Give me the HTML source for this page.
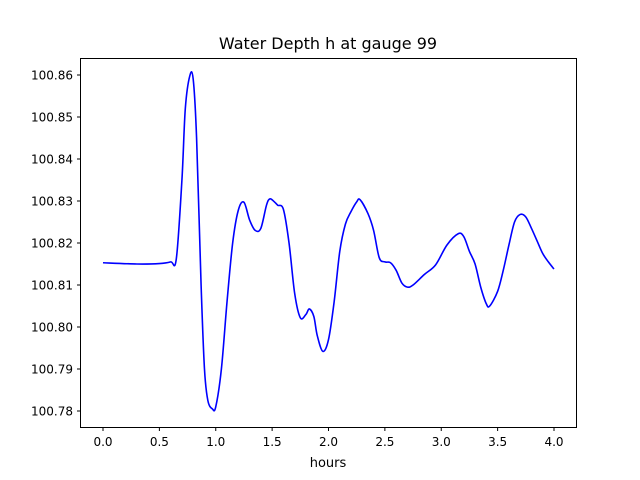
<!DOCTYPE html>
<html><head><meta charset="utf-8"><style>
html,body{margin:0;padding:0;background:#fff;}
svg{display:block;font-family:"DejaVu Sans","Liberation Sans",sans-serif;}
</style></head><body>
<svg id="chart" width="640" height="480" viewBox="0 0 640 480">
<rect x="0" y="0" width="640" height="480" fill="#fff"/>
<text x="328" y="49" font-size="16" text-anchor="middle">Water Depth h at gauge 99</text>
<g id="ticks"></g>
<path id="line" fill="none" stroke="#0000ff" stroke-width="1.6"/>
<rect x="80.5" y="58.5" width="496" height="369" fill="none" stroke="#000" stroke-width="1"/>
<text x="328" y="467" font-size="13" text-anchor="middle">hours</text>
</svg>
<script>
const hours = [0,0.3,0.5,0.6,0.65,0.7,0.73,0.77,0.8,0.83,0.87,0.9,0.93,0.97,1.0,1.05,1.1,1.15,1.2,1.25,1.3,1.35,1.4,1.45,1.48,1.52,1.55,1.6,1.65,1.7,1.75,1.8,1.83,1.87,1.9,1.95,2.0,2.05,2.1,2.15,2.2,2.25,2.28,2.35,2.4,2.45,2.5,2.55,2.6,2.65,2.7,2.75,2.85,2.95,3.05,3.15,3.2,3.25,3.3,3.35,3.4,3.43,3.5,3.55,3.6,3.65,3.7,3.75,3.8,3.85,3.9,3.95,4.0];
const depth = [100.8153,100.815,100.8151,100.8155,100.8162,100.835,100.852,100.8598,100.859,100.845,100.81,100.79,100.7825,100.7805,100.781,100.79,100.806,100.82,100.8278,100.8297,100.8255,100.823,100.8235,100.829,100.8305,100.8298,100.829,100.828,100.82,100.808,100.8022,100.803,100.8043,100.8025,100.798,100.7942,100.797,100.806,100.818,100.8245,100.8275,100.8298,100.8303,100.827,100.823,100.8165,100.8155,100.8153,100.8135,100.8105,100.8095,100.81,100.8125,100.8148,100.8195,100.8222,100.8215,100.818,100.815,100.8095,100.8055,100.805,100.8085,100.8135,100.8195,100.825,100.8268,100.8262,100.8235,100.8205,100.8175,100.8155,100.8138];
const xTickLabels = ["0.0","0.5","1.0","1.5","2.0","2.5","3.0","3.5","4.0"];
const yTickLabels = ["100.78","100.79","100.80","100.81","100.82","100.83","100.84","100.85","100.86"];

const xs = h => 103 + (h - 0) * (554 - 103) / 4;
const ys = v => 411 - (v - 100.78) * (411 - 75) / 0.08;
const NS = "http://www.w3.org/2000/svg";
const g = document.getElementById("ticks");

xTickLabels.forEach(t => {
  const x = xs(parseFloat(t));
  const l = document.createElementNS(NS, "line");
  l.setAttribute("x1", x); l.setAttribute("x2", x); l.setAttribute("y1", 427.5); l.setAttribute("y2", 431);
  l.setAttribute("stroke", "#000");
  
  
  g.appendChild(l);
  const tx = document.createElementNS(NS, "text");
  tx.setAttribute("x", x); tx.setAttribute("y", 446); tx.setAttribute("font-size", "12"); tx.setAttribute("text-anchor", "middle");
  tx.textContent = t;
  
  
  g.appendChild(tx);
});
yTickLabels.forEach(t => {
  const y = ys(parseFloat(t));
  const l = document.createElementNS(NS, "line");
  l.setAttribute("x1", 77); l.setAttribute("x2", 80.5); l.setAttribute("y1", y); l.setAttribute("y2", y);
  l.setAttribute("stroke", "#000");
  
  
  g.appendChild(l);
  const tx = document.createElementNS(NS, "text");
  tx.setAttribute("x", 73); tx.setAttribute("y", y + 4.5); tx.setAttribute("font-size", "12"); tx.setAttribute("text-anchor", "end");
  tx.textContent = t;
  
  
  g.appendChild(tx);
});

// Catmull-Rom smoothing through data points
const pts = hours.map((h, i) => [xs(h), ys(depth[i])]);
let d = "M" + pts[0][0] + "," + pts[0][1];
for (let i = 0; i < pts.length - 1; i++) {
  const p0 = pts[Math.max(0, i - 1)], p1 = pts[i], p2 = pts[i + 1], p3 = pts[Math.min(pts.length - 1, i + 2)];
  const c1 = [p1[0] + (p2[0] - p0[0]) / 6, p1[1] + (p2[1] - p0[1]) / 6];
  const c2 = [p2[0] - (p3[0] - p1[0]) / 6, p2[1] - (p3[1] - p1[1]) / 6];
  d += " C" + c1[0] + "," + c1[1] + " " + c2[0] + "," + c2[1] + " " + p2[0] + "," + p2[1];
}
document.getElementById("line").setAttribute("d", d);
</script>
</body></html>
